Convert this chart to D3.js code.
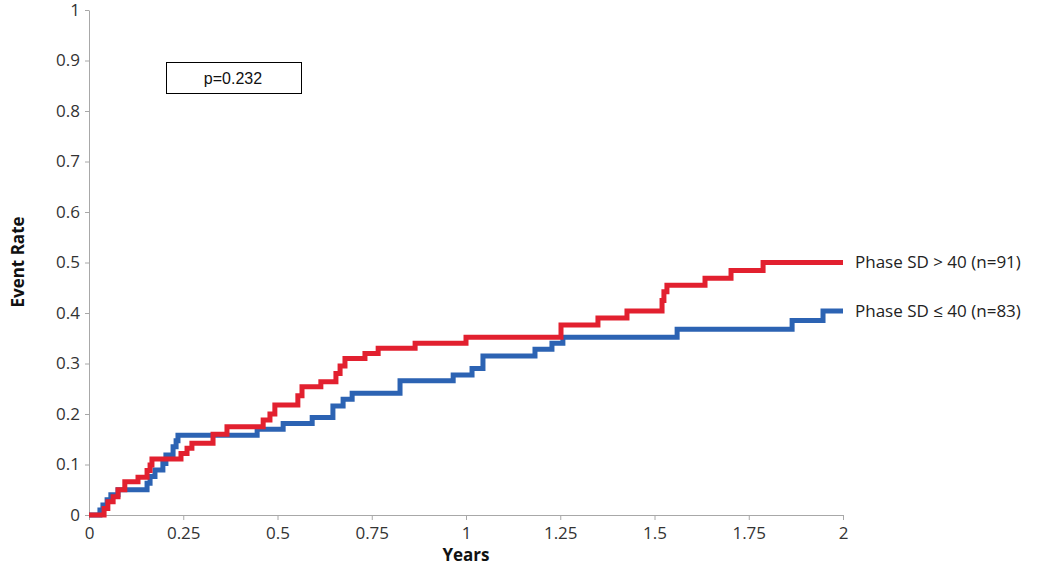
<!DOCTYPE html>
<html>
<head>
<meta charset="utf-8">
<script src="https://cdn.jsdelivr.net/npm/d3@7"></script>
<style>
  body { margin: 0; background: #fff; }
  .axis text { font-family: "Open Sans", sans-serif; font-size: 17px; fill: #333; }
  .axis path, .axis line { stroke: #a8a8a8; }
</style>
</head>
<body>
<div class="chart"></div>
<script>
// step points: time (years) at which the cumulative event rate changes
var redTimes = [0, 0.040, 0.050, 0.064, 0.077, 0.095, 0.130, 0.154, 0.162, 0.167, 0.244, 0.260, 0.273, 0.329, 0.366,
  0.462, 0.480, 0.493, 0.554, 0.565, 0.615, 0.655, 0.666, 0.679, 0.732, 0.767, 0.865, 1.000, 1.252, 1.350, 1.427,
  1.520, 1.525, 1.533, 1.634, 1.703, 1.788, 2];
var redRates = [0, 0.013, 0.026, 0.036, 0.05, 0.066, 0.075, 0.088, 0.099, 0.111, 0.122, 0.132, 0.142, 0.16, 0.175,
  0.188, 0.2, 0.218, 0.236, 0.254, 0.264, 0.28, 0.295, 0.31, 0.32, 0.33, 0.34, 0.352, 0.376, 0.39, 0.404,
  0.425, 0.442, 0.455, 0.469, 0.484, 0.50, 0.50];

var blueTimes = [0, 0.029, 0.037, 0.048, 0.058, 0.077, 0.154, 0.162, 0.175, 0.196, 0.204, 0.223, 0.231, 0.236,
  0.446, 0.515, 0.592, 0.647, 0.674, 0.698, 0.825, 0.966, 1.016, 1.045, 1.183, 1.228, 1.257, 1.560, 1.865, 1.947, 2];
var blueRates = [0, 0.01, 0.02, 0.03, 0.04, 0.05, 0.063, 0.076, 0.089, 0.102, 0.119, 0.135, 0.147, 0.158,
  0.17, 0.181, 0.193, 0.216, 0.229, 0.241, 0.266, 0.277, 0.29, 0.315, 0.328, 0.34, 0.352, 0.368, 0.385, 0.404, 0.404];

var xTicks = [0, 0.25, 0.5, 0.75, 1, 1.25, 1.5, 1.75, 2];
var yTicks = [0, 0.1, 0.2, 0.3, 0.4, 0.5, 0.6, 0.7, 0.8, 0.9, 1];
var labels = ["Phase SD > 40 (n=91)", "Phase SD \u2264 40 (n=83)"];
var pText = "p=0.232";

var width = 1050, height = 578;

var svg = d3.select(".chart").append("svg")
  .attr("width", width)
  .attr("height", height);

var x = d3.scaleLinear().domain([0, 2]).range([89, 843]);
var y = d3.scaleLinear().domain([0, 1]).range([515, 10]);

svg.append("g")
  .attr("class", "axis")
  .attr("transform", "translate(0,515)")
  .call(d3.axisBottom(x).tickValues(xTicks).tickSize(5).tickSizeOuter(0).tickPadding(7)
    .tickFormat(function(d) { return String(d); }));

svg.append("g")
  .attr("class", "axis")
  .attr("transform", "translate(89,0)")
  .call(d3.axisLeft(y).tickValues(yTicks).tickSize(4).tickSizeOuter(0).tickPadding(5)
    .tickFormat(function(d) { return String(d); }));

svg.append("text")
  .attr("x", 466)
  .attr("y", 561)
  .attr("text-anchor", "middle")
  .attr("font-family", "Open Sans, sans-serif")
  .attr("font-weight", "bold")
  .attr("font-size", 17)
  .attr("fill", "#111")
  .text("Years");

svg.append("text")
  .attr("transform", "translate(24,262) rotate(-90)")
  .attr("text-anchor", "middle")
  .attr("font-family", "Open Sans, sans-serif")
  .attr("font-weight", "bold")
  .attr("font-size", 17)
  .attr("fill", "#111")
  .text("Event Rate");

var line = d3.line()
  .curve(d3.curveStepAfter)
  .x(function(d) { return x(d[0]); })
  .y(function(d) { return y(d[1]); });

var blue = d3.zip(blueTimes, blueRates);
var red = d3.zip(redTimes, redRates);

svg.append("path")
  .datum(blue)
  .attr("d", line)
  .attr("fill", "none")
  .attr("stroke", "#2c63b3")
  .attr("stroke-width", 5);

svg.append("path")
  .datum(red)
  .attr("d", line)
  .attr("fill", "none")
  .attr("stroke", "#e2202f")
  .attr("stroke-width", 5);

svg.selectAll(".legend")
  .data([redRates[redRates.length - 1], blueRates[blueRates.length - 1]])
  .enter()
  .append("text")
  .attr("class", "legend")
  .attr("x", 855)
  .attr("y", function(d) { return y(d); })
  .attr("dy", "0.35em")
  .attr("font-family", "Open Sans, sans-serif")
  .attr("font-size", 17)
  .attr("fill", "#222")
  .text(function(d, i) { return labels[i]; });

svg.append("rect")
  .attr("x", 166.5)
  .attr("y", 62.5)
  .attr("width", 135)
  .attr("height", 31)
  .attr("fill", "#fff")
  .attr("stroke", "#000")
  .attr("stroke-width", 1);

svg.append("text")
  .attr("x", 233)
  .attr("y", 78)
  .attr("dy", "0.35em")
  .attr("text-anchor", "middle")
  .attr("font-family", "Liberation Sans, Arial, sans-serif")
  .attr("font-size", 16)
  .attr("fill", "#111")
  .text(pText);
</script>
</body>
</html>
